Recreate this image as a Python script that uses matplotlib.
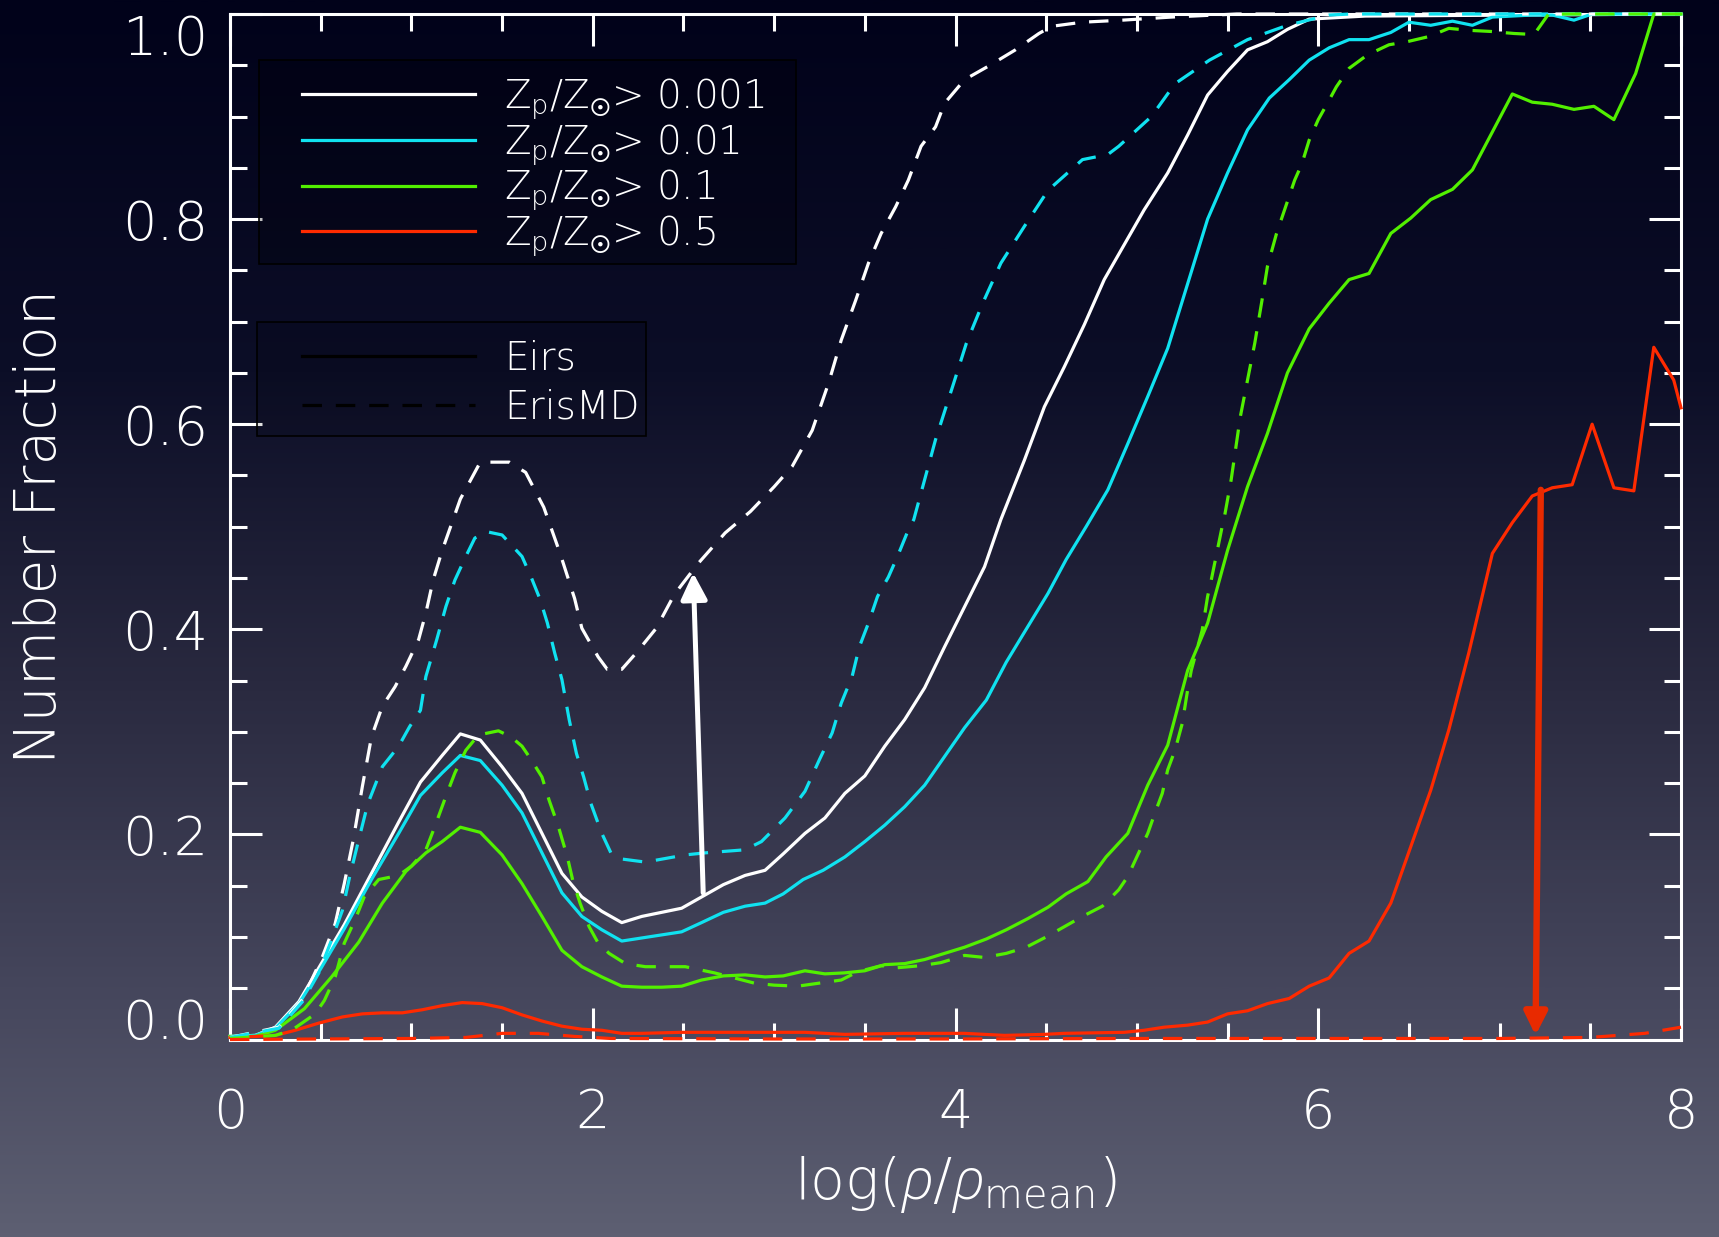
import numpy as np
import matplotlib
matplotlib.use('Agg')
import matplotlib.pyplot as plt
from matplotlib.colors import LinearSegmentedColormap
from matplotlib.lines import Line2D
from matplotlib.patches import Rectangle

# Eris (solid) curves
eris_001_x = [0, 0.14, 0.25, 0.38, 0.50, 0.63, 0.78, 0.93, 1.05, 1.17,
              1.27, 1.38, 1.50, 1.61, 1.72, 1.83, 1.94, 2.05, 2.16, 2.27,
              2.38, 2.49, 2.60, 2.72, 2.84, 2.95, 3.05, 3.17, 3.28, 3.39,
              3.50, 3.61, 3.72, 3.83, 3.94, 4.05, 4.16, 4.25, 4.38, 4.49,
              4.60, 4.71, 4.82, 4.93, 5.04, 5.17, 5.28, 5.39, 5.50, 5.61,
              5.72, 5.83, 5.95, 6.26, 8.0]
eris_001_y = [0.003, 0.004, 0.012, 0.037, 0.073, 0.112, 0.162, 0.212, 0.251, 0.277,
              0.298, 0.292, 0.266, 0.240, 0.201, 0.162, 0.139, 0.125, 0.114, 0.120,
              0.124, 0.128, 0.139, 0.151, 0.160, 0.165, 0.181, 0.201, 0.216, 0.240,
              0.257, 0.286, 0.312, 0.343, 0.383, 0.422, 0.461, 0.507, 0.565, 0.617,
              0.656, 0.697, 0.741, 0.775, 0.809, 0.845, 0.882, 0.921, 0.944, 0.965,
              0.973, 0.985, 0.995, 0.998, 1.0]

eris_01_x = [0, 0.14, 0.25, 0.38, 0.50, 0.63, 0.78, 0.93, 1.05, 1.17,
             1.27, 1.38, 1.50, 1.61, 1.72, 1.83, 1.94, 2.05, 2.16, 2.27,
             2.38, 2.49, 2.60, 2.72, 2.84, 2.95, 3.05, 3.16, 3.27, 3.39,
             3.50, 3.61, 3.72, 3.83, 3.94, 4.05, 4.17, 4.28, 4.40, 4.51,
             4.61, 4.72, 4.84, 4.95, 5.06, 5.17, 5.28, 5.39, 5.50, 5.61,
             5.73, 5.84, 5.95, 6.06, 6.17, 6.28, 6.40, 6.50, 6.62, 6.74,
             6.85, 6.96, 7.07, 7.18, 7.29, 7.41, 7.51, 8.0]
eris_01_y = [0.003, 0.004, 0.011, 0.035, 0.069, 0.108, 0.156, 0.201, 0.238, 0.260,
             0.277, 0.272, 0.248, 0.221, 0.182, 0.143, 0.120, 0.107, 0.096, 0.099,
             0.102, 0.105, 0.114, 0.124, 0.130, 0.133, 0.142, 0.156, 0.165, 0.178,
             0.193, 0.209, 0.227, 0.248, 0.276, 0.304, 0.331, 0.368, 0.403, 0.435,
             0.468, 0.500, 0.536, 0.581, 0.627, 0.674, 0.737, 0.800, 0.845, 0.887,
             0.918, 0.936, 0.955, 0.967, 0.975, 0.975, 0.982, 0.992, 0.989, 0.993,
             0.989, 0.997, 0.998, 0.999, 0.999, 0.994, 1.0, 1.0]

eris_1_x = [0, 0.14, 0.25, 0.41, 0.56, 0.71, 0.84, 0.97, 1.08, 1.17,
            1.27, 1.38, 1.50, 1.61, 1.72, 1.83, 1.94, 2.05, 2.16, 2.27,
            2.38, 2.49, 2.60, 2.72, 2.84, 2.95, 3.05, 3.17, 3.28, 3.39,
            3.50, 3.61, 3.72, 3.83, 3.94, 4.05, 4.17, 4.28, 4.40, 4.51,
            4.61, 4.73, 4.83, 4.95, 5.06, 5.17, 5.28, 5.39, 5.50, 5.61,
            5.72, 5.83, 5.95, 6.06, 6.17, 6.28, 6.40, 6.51, 6.62, 6.74,
            6.85, 6.96, 7.07, 7.18, 7.29, 7.41, 7.52, 7.63, 7.75, 7.85,
            8.0]
eris_1_y = [0.003, 0.003, 0.009, 0.030, 0.061, 0.095, 0.133, 0.164, 0.182, 0.193,
            0.207, 0.202, 0.180, 0.152, 0.120, 0.087, 0.071, 0.061, 0.052, 0.051,
            0.051, 0.052, 0.058, 0.062, 0.063, 0.061, 0.062, 0.067, 0.064, 0.065,
            0.067, 0.073, 0.074, 0.078, 0.084, 0.090, 0.098, 0.107, 0.118, 0.129,
            0.142, 0.154, 0.178, 0.201, 0.248, 0.287, 0.360, 0.406, 0.477, 0.539,
            0.591, 0.650, 0.693, 0.718, 0.741, 0.747, 0.786, 0.801, 0.819, 0.829,
            0.848, 0.885, 0.922, 0.914, 0.912, 0.907, 0.910, 0.897, 0.942, 1.0,
            1.0]

eris_5_x = [0, 0.14, 0.25, 0.36, 0.49, 0.62, 0.73, 0.84, 0.95, 1.06,
            1.17, 1.28, 1.39, 1.50, 1.61, 1.72, 1.83, 1.94, 2.05, 2.16,
            2.27, 2.49, 2.73, 2.84, 3.17, 3.39, 3.72, 4.05, 4.27, 4.49,
            4.60, 4.93, 5.04, 5.15, 5.28, 5.39, 5.50, 5.61, 5.72, 5.84,
            5.95, 6.06, 6.17, 6.28, 6.40, 6.51, 6.62, 6.72, 6.83, 6.96,
            7.07, 7.18, 7.29, 7.40, 7.51, 7.63, 7.74, 7.85, 7.96, 8.0]
eris_5_y = [0.002, 0.003, 0.004, 0.009, 0.016, 0.022, 0.025, 0.026, 0.026, 0.029,
            0.033, 0.036, 0.035, 0.031, 0.024, 0.018, 0.013, 0.010, 0.009, 0.006,
            0.006, 0.007, 0.007, 0.007, 0.007, 0.005, 0.006, 0.006, 0.004, 0.005,
            0.006, 0.007, 0.009, 0.012, 0.014, 0.017, 0.025, 0.028, 0.035, 0.040,
            0.052, 0.060, 0.084, 0.096, 0.133, 0.188, 0.243, 0.302, 0.377, 0.474,
            0.504, 0.530, 0.538, 0.541, 0.600, 0.538, 0.535, 0.675, 0.643, 0.616]

# ErisMD (dashed) curves
md_001_x = [0, 0.27, 0.40, 0.51, 0.58, 0.63, 0.68, 0.73, 0.78, 0.84,
            0.91, 0.97, 1.04, 1.08, 1.12, 1.17, 1.27, 1.38, 1.54, 1.63,
            1.73, 1.82, 1.90, 1.94, 2.03, 2.08, 2.16, 2.24, 2.35, 2.45,
            2.58, 2.73, 2.87, 3.00, 3.10, 3.21, 3.30, 3.37, 3.45, 3.52,
            3.59, 3.67, 3.74, 3.81, 3.89, 3.94, 4.05, 4.18, 4.33, 4.46,
            4.53, 4.70, 4.92, 5.19, 5.43, 5.55, 8.0]
md_001_y = [0.002, 0.012, 0.039, 0.081, 0.113, 0.152, 0.195, 0.247, 0.295, 0.325,
            0.344, 0.364, 0.390, 0.416, 0.448, 0.477, 0.527, 0.563, 0.563, 0.553,
            0.519, 0.474, 0.430, 0.401, 0.373, 0.361, 0.361, 0.377, 0.401, 0.434,
            0.464, 0.494, 0.515, 0.539, 0.559, 0.594, 0.640, 0.682, 0.721, 0.757,
            0.786, 0.812, 0.838, 0.871, 0.890, 0.913, 0.936, 0.949, 0.965, 0.981,
            0.988, 0.992, 0.994, 0.997, 0.999, 1.0, 1.0]

md_01_x = [0, 0.27, 0.40, 0.49, 0.56, 0.62, 0.66, 0.71, 0.76, 0.84,
           0.93, 0.99, 1.05, 1.08, 1.14, 1.19, 1.24, 1.30, 1.35, 1.42,
           1.50, 1.61, 1.66, 1.71, 1.75, 1.79, 1.83, 1.87, 1.91, 1.95,
           1.99, 2.05, 2.10, 2.16, 2.29, 2.51, 2.62, 2.84, 2.93, 3.06,
           3.17, 3.25, 3.32, 3.37, 3.43, 3.47, 3.52, 3.57, 3.63, 3.68,
           3.74, 3.77, 3.89, 3.99, 4.06, 4.15, 4.25, 4.38, 4.51, 4.70,
           4.84, 4.90, 5.08, 5.21, 5.40, 5.61, 5.83, 6.06, 6.18, 8.0]
md_01_y = [0.002, 0.011, 0.037, 0.065, 0.097, 0.126, 0.159, 0.195, 0.230, 0.266,
           0.286, 0.305, 0.321, 0.354, 0.390, 0.422, 0.448, 0.471, 0.489, 0.495,
           0.492, 0.471, 0.451, 0.429, 0.406, 0.377, 0.351, 0.312, 0.279, 0.256,
           0.230, 0.201, 0.182, 0.176, 0.173, 0.180, 0.182, 0.185, 0.193, 0.216,
           0.242, 0.273, 0.299, 0.328, 0.354, 0.383, 0.406, 0.432, 0.451, 0.471,
           0.497, 0.507, 0.585, 0.640, 0.679, 0.718, 0.757, 0.793, 0.828, 0.858,
           0.863, 0.871, 0.900, 0.932, 0.955, 0.975, 0.989, 0.999, 1.0, 1.0]

md_1_x = [0, 0.25, 0.34, 0.47, 0.52, 0.58, 0.63, 0.69, 0.74, 0.82,
          0.93, 1.00, 1.08, 1.13, 1.19, 1.24, 1.30, 1.37, 1.48, 1.55,
          1.61, 1.66, 1.72, 1.76, 1.81, 1.86, 1.89, 1.93, 1.98, 2.03,
          2.09, 2.18, 2.29, 2.51, 2.67, 2.76, 2.89, 3.00, 3.13, 3.17,
          3.37, 3.46, 3.59, 3.68, 3.81, 3.92, 4.05, 4.16, 4.28, 4.39,
          4.50, 4.60, 4.70, 4.81, 4.90, 4.95, 5.01, 5.06, 5.10, 5.14,
          5.17, 5.21, 5.25, 5.28, 5.30, 5.34, 5.36, 5.39, 5.41, 5.44,
          5.47, 5.48, 5.52, 5.57, 5.61, 5.65, 5.69, 5.72, 5.77, 5.82,
          5.87, 5.91, 5.95, 6.00, 6.06, 6.10, 6.17, 6.27, 6.39, 6.49,
          6.61, 6.72, 6.84, 6.95, 7.08, 7.19, 7.27, 8.0]
md_1_y = [0.001, 0.004, 0.009, 0.025, 0.038, 0.061, 0.094, 0.117, 0.139, 0.156,
          0.160, 0.169, 0.185, 0.208, 0.237, 0.260, 0.282, 0.297, 0.301, 0.295,
          0.286, 0.273, 0.256, 0.233, 0.208, 0.178, 0.155, 0.133, 0.110, 0.094,
          0.084, 0.074, 0.071, 0.071, 0.065, 0.061, 0.055, 0.053, 0.052, 0.053,
          0.058, 0.066, 0.072, 0.070, 0.072, 0.075, 0.082, 0.080, 0.084, 0.090,
          0.100, 0.110, 0.120, 0.130, 0.146, 0.159, 0.182, 0.201, 0.221, 0.240,
          0.263, 0.282, 0.308, 0.341, 0.360, 0.386, 0.399, 0.432, 0.448, 0.474,
          0.500, 0.507, 0.546, 0.607, 0.643, 0.679, 0.721, 0.754, 0.786, 0.812,
          0.838, 0.854, 0.877, 0.897, 0.916, 0.929, 0.947, 0.960, 0.970, 0.973,
          0.978, 0.986, 0.984, 0.983, 0.981, 0.980, 1.0, 1.0]

md_5_x = [0, 1.0, 1.3, 1.5, 1.7, 1.9, 2.1, 3.0, 4.0, 5.0, 6.0, 7.0, 7.5, 7.8, 8.0]
md_5_y = [0, 0.001, 0.002, 0.006, 0.006, 0.003, 0.001, 0.0005, 0.0005, 0.001,
          0.001, 0.001, 0.002, 0.006, 0.012]

# arrows: (tail, head)
white_arrow = [(2.609, 0.143), (2.554, 0.455)]
red_arrow = [(7.227, 0.536), (7.198, 0.004)]

z_labels = [r'Z$_\mathrm{p}$/Z$_☉$> 0.001', r'Z$_\mathrm{p}$/Z$_☉$> 0.01',
            r'Z$_\mathrm{p}$/Z$_☉$> 0.1', r'Z$_\mathrm{p}$/Z$_☉$> 0.5']
run_labels = ['Eirs', 'ErisMD']

WHITE = '#ffffff'
CYAN = '#10e2f0'
GREEN = '#52f000'
RED = '#ff2a00'

plt.rcParams['font.family'] = ['DejaVu Sans']
plt.rcParams['font.weight'] = 200
plt.rcParams['axes.labelweight'] = 200
plt.rcParams['mathtext.fontset'] = 'custom'
plt.rcParams['mathtext.rm'] = 'DejaVu Sans:extralight'
plt.rcParams['mathtext.it'] = 'Open Sans:italic'
plt.rcParams['mathtext.bf'] = 'DejaVu Sans:bold'
plt.rcParams['lines.scale_dashes'] = False

W, H = 1719, 1237
fig = plt.figure(figsize=(W / 100, H / 100), dpi=100)

# gradient background
bg = fig.add_axes([0, 0, 1, 1], zorder=-10)
grad = np.linspace(0, 1, 512).reshape(-1, 1)
cmap = LinearSegmentedColormap.from_list(
    'bg', [(0, '#01021a'), (0.3, '#0c0e27'), (0.55, '#29293f'),
           (0.8, '#45465c'), (1, '#5d5f72')])
bg.imshow(grad, aspect='auto', cmap=cmap, extent=[0, 1, 0, 1], origin='upper')
bg.axis('off')

ax = fig.add_axes([230 / W, (H - 1039.5) / H, 1451 / W, 1025.5 / H])
ax.set_facecolor('none')

dash = (0, (14, 10))
lw = 2.3
series = [
    (eris_001_x, eris_001_y, WHITE, '-'),
    (eris_01_x, eris_01_y, CYAN, '-'),
    (eris_1_x, eris_1_y, GREEN, '-'),
    (eris_5_x, eris_5_y, RED, '-'),
    (md_001_x, md_001_y, WHITE, dash),
    (md_01_x, md_01_y, CYAN, dash),
    (md_1_x, md_1_y, GREEN, dash),
    (md_5_x, md_5_y, RED, dash),
]
for x, y, c, ls in series:
    ax.plot(x, y, color=c, ls=ls, lw=lw, zorder=3, clip_on=False)

ax.annotate('', xy=white_arrow[1], xytext=white_arrow[0],
            arrowprops=dict(arrowstyle='-|>', color=WHITE, lw=3.6,
                            mutation_scale=40, shrinkA=0, shrinkB=0))
ax.annotate('', xy=red_arrow[1], xytext=red_arrow[0],
            arrowprops=dict(arrowstyle='-|>', color='#e82a00', lw=4.6,
                            mutation_scale=34, shrinkA=0, shrinkB=0))

ax.set_xlim(0, 8)
ax.set_ylim(0, 1)
ax.set_xticks([0, 2, 4, 6, 8])
ax.set_xticks(np.arange(0, 8.01, 0.5), minor=True)
ax.set_yticks(np.arange(0, 1.01, 0.2))
ax.set_yticks(np.arange(0, 1.001, 0.05), minor=True)
ax.tick_params(which='both', direction='in', top=True, right=True,
               colors='white', width=2.2)
ax.tick_params(which='major', length=23)
ax.tick_params(which='minor', length=12)
ax.tick_params(axis='x', pad=34, labelsize=39)
ax.tick_params(axis='y', pad=16, labelsize=39)
ylabels = ax.get_yticklabels()
ylabels[-1].set_va('top')
ylabels[0].set_va('baseline')
for s in ax.spines.values():
    s.set_color('white')
    s.set_linewidth(2.2)

ax.set_xlabel(r'log($\rho$/$\rho_\mathrm{mean}$)', color='white', fontsize=41)
ax.xaxis.set_label_coords(0.5, -0.112)
ax.set_ylabel('Number Fraction', color='white', fontsize=41)
ax.yaxis.set_label_coords(-0.112, 0.5)

# legend frames
fig.add_artist(Rectangle((259 / W, 1 - 264 / H), (796 - 259) / W, (264 - 60) / H,
                         transform=fig.transFigure, facecolor=(0, 0, 0.02, 0.25),
                         edgecolor='black', lw=1.2, zorder=1))
fig.add_artist(Rectangle((257 / W, 1 - 436 / H), (646 - 257) / W, (436 - 322) / H,
                         transform=fig.transFigure, facecolor=(0, 0, 0.02, 0.12),
                         edgecolor='black', lw=1.2, zorder=1))

h1 = [Line2D([], [], color=c, lw=lw) for c in [WHITE, CYAN, GREEN, RED]]
fig.legend(h1, z_labels, loc='upper left', bbox_to_anchor=(302 / W, 1 - 76 / H),
           frameon=False, fontsize=28, handlelength=4.45, handletextpad=0.75,
           borderpad=0, borderaxespad=0, labelspacing=0.03, labelcolor='white')
h2 = [Line2D([], [], color='black', lw=lw),
      Line2D([], [], color='black', lw=lw, ls=dash)]
fig.legend(h2, run_labels, loc='upper left', bbox_to_anchor=(302 / W, 1 - 340 / H),
           frameon=False, fontsize=28, handlelength=4.45, handletextpad=0.75,
           borderpad=0, borderaxespad=0, labelspacing=0.27, labelcolor='white')

fig.savefig('out.png', dpi=100)
